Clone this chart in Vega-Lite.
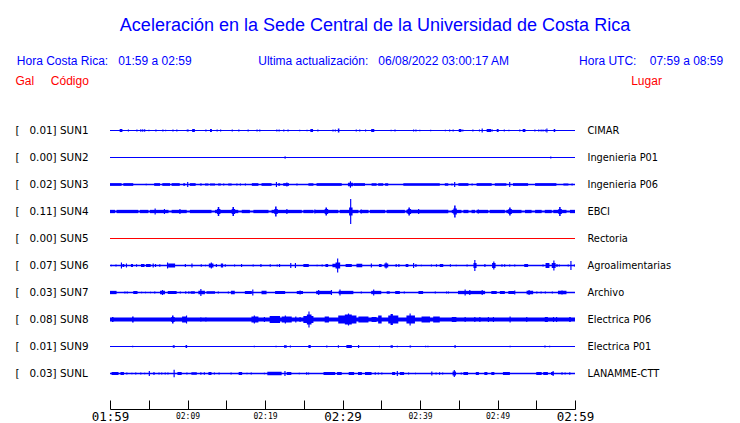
{
 "$schema": "https://vega.github.io/schema/vega-lite/v6.json",
 "width": 465,
 "height": 270,
 "autosize": {"type": "none"},
 "padding": {"left": 110, "top": 117, "right": 165, "bottom": 36},
 "background": "white",
 "config": {"view": {"stroke": null}},
 "title": {
  "text": "Aceleración en la Sede Central de la Universidad de Costa Rica",
  "subtitle": "Hora Costa Rica:\u00a0\u00a0\u00a001:59 a 02:59\u00a0\u00a0\u00a0\u00a0\u00a0\u00a0\u00a0\u00a0\u00a0\u00a0\u00a0\u00a0\u00a0\u00a0\u00a0\u00a0\u00a0\u00a0\u00a0\u00a0Ultima actualización:\u00a0\u00a0\u00a006/08/2022 03:00:17 AM\u00a0\u00a0\u00a0\u00a0\u00a0\u00a0\u00a0\u00a0\u00a0\u00a0\u00a0\u00a0\u00a0\u00a0\u00a0\u00a0\u00a0\u00a0\u00a0\u00a0\u00a0Hora UTC:\u00a0\u00a0\u00a0\u00a007:59 a 08:59\u00a0\u00a0\u00a0\u200b",
  "anchor": "middle",
  "frame": "group",
  "dx": 32.5,
  "offset": 7,
  "font": "Liberation Sans",
  "fontSize": 18,
  "fontWeight": "normal",
  "color": "#0000ff",
  "subtitleFont": "Liberation Sans",
  "subtitleFontSize": 12,
  "subtitleColor": "#0000ff",
  "subtitlePadding": 21
 },
 "datasets": {
  "stations": [
   {"s": "SUN1", "lab": "[\u00a0\u00a0\u00a00.01]\u00a0SUN1", "place": "CIMAR", "n": 0},
   {"s": "SUN2", "lab": "[\u00a0\u00a0\u00a00.00]\u00a0SUN2", "place": "Ingenieria P01", "n": 0},
   {"s": "SUN3", "lab": "[\u00a0\u00a0\u00a00.02]\u00a0SUN3", "place": "Ingenieria P06", "n": 0.2},
   {"s": "SUN4", "lab": "[\u00a0\u00a0\u00a00.11]\u00a0SUN4", "place": "EBCI", "n": 0.3},
   {"s": "SUN5", "lab": "[\u00a0\u00a0\u00a00.00]\u00a0SUN5", "place": "Rectoria", "n": 0},
   {"s": "SUN6", "lab": "[\u00a0\u00a0\u00a00.07]\u00a0SUN6", "place": "Agroalimentarias", "n": 0.1},
   {"s": "SUN7", "lab": "[\u00a0\u00a0\u00a00.03]\u00a0SUN7", "place": "Archivo", "n": 0.1},
   {"s": "SUN8", "lab": "[\u00a0\u00a0\u00a00.08]\u00a0SUN8", "place": "Electrica P06", "n": 1},
   {"s": "SUN9", "lab": "[\u00a0\u00a0\u00a00.01]\u00a0SUN9", "place": "Electrica P01", "n": 0},
   {"s": "SUNL", "lab": "[\u00a0\u00a0\u00a00.03]\u00a0SUNL", "place": "LANAMME-CTT", "n": 0.1}
  ],
  "bursts": [
   {"s":"SUN1","t0":1.25,"t1":1.6,"a":3},{"s":"SUN1","t0":2.3,"t1":2.45,"a":2},{"s":"SUN1","t0":3.4,"t1":3.55,"a":2},{"s":"SUN1","t0":3.9,"t1":4.05,"a":2.5},{"s":"SUN1","t0":4.15,"t1":4.3,"a":2.5},{"s":"SUN1","t0":4.4,"t1":4.55,"a":2.5},{"s":"SUN1","t0":4.95,"t1":5.1,"a":1.5},{"s":"SUN1","t0":5.85,"t1":6.0,"a":2},{"s":"SUN1","t0":6.75,"t1":6.9,"a":2},{"s":"SUN1","t0":7.1,"t1":7.25,"a":1.5},{"s":"SUN1","t0":8.05,"t1":8.2,"a":2},{"s":"SUN1","t0":8.55,"t1":8.7,"a":2},{"s":"SUN1","t0":9.9,"t1":10.15,"a":2},{"s":"SUN1","t0":10.6,"t1":10.95,"a":3},{"s":"SUN1","t0":12.3,"t1":12.45,"a":2},{"s":"SUN1","t0":12.9,"t1":13.15,"a":3},{"s":"SUN1","t0":13.75,"t1":13.9,"a":2},{"s":"SUN1","t0":14.2,"t1":14.35,"a":2},{"s":"SUN1","t0":15.7,"t1":15.85,"a":2},{"s":"SUN1","t0":16.55,"t1":16.7,"a":2},{"s":"SUN1","t0":17.75,"t1":17.9,"a":2},{"s":"SUN1","t0":18.9,"t1":19.05,"a":2},{"s":"SUN1","t0":19.25,"t1":19.4,"a":2},{"s":"SUN1","t0":21.45,"t1":21.6,"a":2},{"s":"SUN1","t0":21.75,"t1":21.9,"a":2},{"s":"SUN1","t0":22.35,"t1":22.5,"a":2},{"s":"SUN1","t0":22.9,"t1":23.05,"a":2},{"s":"SUN1","t0":24.4,"t1":24.55,"a":1.5},{"s":"SUN1","t0":25.35,"t1":25.5,"a":1.5},{"s":"SUN1","t0":25.85,"t1":26.2,"a":3},{"s":"SUN1","t0":26.75,"t1":26.9,"a":2},{"s":"SUN1","t0":28.7,"t1":28.85,"a":2},{"s":"SUN1","t0":29.0,"t1":29.15,"a":2},{"s":"SUN1","t0":29.4,"t1":29.6,"a":4},{"s":"SUN1","t0":31.7,"t1":31.85,"a":2},{"s":"SUN1","t0":32.15,"t1":32.3,"a":2},{"s":"SUN1","t0":32.9,"t1":33.05,"a":2},{"s":"SUN1","t0":33.7,"t1":34.1,"a":3},{"s":"SUN1","t0":36.2,"t1":36.35,"a":1.5},{"s":"SUN1","t0":36.7,"t1":36.85,"a":2},{"s":"SUN1","t0":39.1,"t1":39.25,"a":2},{"s":"SUN1","t0":39.4,"t1":39.55,"a":2},{"s":"SUN1","t0":39.9,"t1":40.05,"a":1.5},{"s":"SUN1","t0":41.3,"t1":41.45,"a":1.5},{"s":"SUN1","t0":43.2,"t1":43.35,"a":1.5},{"s":"SUN1","t0":43.75,"t1":43.9,"a":2},{"s":"SUN1","t0":44.2,"t1":44.35,"a":2},{"s":"SUN1","t0":45.0,"t1":45.35,"a":3},{"s":"SUN1","t0":45.45,"t1":45.6,"a":2},{"s":"SUN1","t0":46.75,"t1":46.9,"a":2},{"s":"SUN1","t0":47.6,"t1":47.75,"a":2},{"s":"SUN1","t0":47.95,"t1":48.1,"a":4},{"s":"SUN1","t0":48.6,"t1":49.2,"a":3},{"s":"SUN1","t0":49.25,"t1":49.4,"a":2},{"s":"SUN1","t0":49.9,"t1":50.15,"a":3},{"s":"SUN1","t0":50.8,"t1":50.95,"a":2},{"s":"SUN1","t0":51.4,"t1":51.55,"a":1.5},{"s":"SUN1","t0":52.8,"t1":52.95,"a":2},{"s":"SUN1","t0":53.25,"t1":53.6,"a":3},{"s":"SUN1","t0":54.75,"t1":54.9,"a":2},{"s":"SUN1","t0":55.25,"t1":55.4,"a":2},{"s":"SUN1","t0":55.55,"t1":55.7,"a":2},{"s":"SUN1","t0":55.8,"t1":55.95,"a":2},{"s":"SUN1","t0":56.1,"t1":56.25,"a":2},{"s":"SUN1","t0":56.3,"t1":56.45,"a":4},{"s":"SUN1","t0":57.25,"t1":57.45,"a":3},
   {"s":"SUN2","t0":22.5,"t1":22.7,"a":2},{"s":"SUN2","t0":56.8,"t1":56.95,"a":2},
   {"s":"SUN3","t0":0,"t1":1.5,"a":2.7},{"s":"SUN3","t0":1.72,"t1":3.0,"a":2.7},{"s":"SUN3","t0":4.6,"t1":4.75,"a":1.5},{"s":"SUN3","t0":5.7,"t1":6.45,"a":2.7},{"s":"SUN3","t0":6.75,"t1":7.75,"a":2.7},{"s":"SUN3","t0":7.95,"t1":9.0,"a":2.7},{"s":"SUN3","t0":9.45,"t1":9.7,"a":2.5},{"s":"SUN3","t0":9.95,"t1":10.1,"a":5},{"s":"SUN3","t0":10.3,"t1":11.05,"a":2.7},{"s":"SUN3","t0":11.6,"t1":11.85,"a":2},{"s":"SUN3","t0":12.25,"t1":12.7,"a":2},{"s":"SUN3","t0":12.9,"t1":13.55,"a":2},{"s":"SUN3","t0":13.95,"t1":14.3,"a":2},{"s":"SUN3","t0":14.6,"t1":14.75,"a":2},{"s":"SUN3","t0":15.25,"t1":15.7,"a":2},{"s":"SUN3","t0":16.3,"t1":16.45,"a":2},{"s":"SUN3","t0":16.75,"t1":16.9,"a":2},{"s":"SUN3","t0":17.4,"t1":17.55,"a":2},{"s":"SUN3","t0":18.3,"t1":19.15,"a":2.7},{"s":"SUN3","t0":19.55,"t1":20.85,"a":2.7},{"s":"SUN3","t0":21.4,"t1":21.55,"a":5},{"s":"SUN3","t0":21.7,"t1":21.95,"a":2.5},{"s":"SUN3","t0":22.35,"t1":23.1,"a":2.7},{"s":"SUN3","t0":22.75,"t1":22.9,"a":4},{"s":"SUN3","t0":24.05,"t1":24.2,"a":2},{"s":"SUN3","t0":25.6,"t1":26.25,"a":2.5},{"s":"SUN3","t0":26.65,"t1":29.9,"a":2.7},{"s":"SUN3","t0":30.7,"t1":31.35,"a":3.5},{"s":"SUN3","t0":30.95,"t1":31.1,"a":6.5},{"s":"SUN3","t0":31.4,"t1":32.9,"a":2.7},{"s":"SUN3","t0":33.75,"t1":34.4,"a":2.5},{"s":"SUN3","t0":34.6,"t1":35.25,"a":2.5},{"s":"SUN3","t0":35.5,"t1":35.9,"a":2.5},{"s":"SUN3","t0":37.85,"t1":42.55,"a":2.7},{"s":"SUN3","t0":43.2,"t1":43.65,"a":2.5},{"s":"SUN3","t0":44.05,"t1":44.2,"a":2},{"s":"SUN3","t0":44.4,"t1":44.55,"a":5},{"s":"SUN3","t0":44.95,"t1":46.25,"a":2.7},{"s":"SUN3","t0":46.65,"t1":46.8,"a":2},{"s":"SUN3","t0":47.3,"t1":49.25,"a":2.7},{"s":"SUN3","t0":49.65,"t1":51.15,"a":2.5},{"s":"SUN3","t0":51.5,"t1":51.65,"a":5},{"s":"SUN3","t0":52.0,"t1":53.95,"a":2.7},{"s":"SUN3","t0":54.85,"t1":57.6,"a":2.7},{"s":"SUN3","t0":58.5,"t1":59.15,"a":2},{"s":"SUN3","t0":59.55,"t1":59.7,"a":2},
   {"s":"SUN4","t0":0,"t1":0.65,"a":3.3},{"s":"SUN4","t0":0.85,"t1":3.65,"a":3.3},{"s":"SUN4","t0":3.85,"t1":4.95,"a":3.3},{"s":"SUN4","t0":5.15,"t1":7.55,"a":3.3},{"s":"SUN4","t0":7.95,"t1":9.9,"a":3.3},{"s":"SUN4","t0":10.3,"t1":13.1,"a":3.3},{"s":"SUN4","t0":13.55,"t1":16.55,"a":3.3},{"s":"SUN4","t0":17.0,"t1":18.05,"a":3.3},{"s":"SUN4","t0":18.5,"t1":20.45,"a":3.3},{"s":"SUN4","t0":20.85,"t1":24.75,"a":3.3},{"s":"SUN4","t0":24.95,"t1":26.25,"a":3.3},{"s":"SUN4","t0":26.45,"t1":29.45,"a":3.3},{"s":"SUN4","t0":29.65,"t1":32.05,"a":3.3},{"s":"SUN4","t0":32.25,"t1":33.35,"a":3.3},{"s":"SUN4","t0":33.55,"t1":35.5,"a":3.3},{"s":"SUN4","t0":35.7,"t1":38.05,"a":3.3},{"s":"SUN4","t0":38.25,"t1":43.65,"a":3.3},{"s":"SUN4","t0":44.1,"t1":45.35,"a":3.3},{"s":"SUN4","t0":45.6,"t1":46.25,"a":3.3},{"s":"SUN4","t0":46.65,"t1":47.1,"a":3.3},{"s":"SUN4","t0":47.3,"t1":48.8,"a":3.3},{"s":"SUN4","t0":49.0,"t1":50.95,"a":3.3},{"s":"SUN4","t0":51.15,"t1":53.1,"a":3.3},{"s":"SUN4","t0":53.55,"t1":54.4,"a":3.3},{"s":"SUN4","t0":54.85,"t1":55.7,"a":3.3},{"s":"SUN4","t0":56.1,"t1":57.0,"a":3.3},{"s":"SUN4","t0":57.2,"t1":58.9,"a":3.3},{"s":"SUN4","t0":59.35,"t1":60,"a":3.3},
   {"s":"SUN4","t0":5.75,"t1":5.9,"a":6},{"s":"SUN4","t0":6.95,"t1":7.1,"a":5},{"s":"SUN4","t0":8.95,"t1":9.1,"a":5},{"s":"SUN4","t0":13.9,"t1":14.1,"a":9},{"s":"SUN4","t0":13.8,"t1":14.25,"a":5},{"s":"SUN4","t0":15.8,"t1":16.0,"a":9},{"s":"SUN4","t0":15.7,"t1":16.15,"a":5},{"s":"SUN4","t0":21.3,"t1":21.5,"a":10},{"s":"SUN4","t0":21.2,"t1":21.65,"a":5},{"s":"SUN4","t0":22.75,"t1":22.9,"a":5},{"s":"SUN4","t0":26.35,"t1":26.5,"a":4},{"s":"SUN4","t0":27.8,"t1":28.0,"a":8},{"s":"SUN4","t0":27.7,"t1":28.15,"a":5},{"s":"SUN4","t0":30.98,"t1":31.13,"a":25},{"s":"SUN4","t0":30.85,"t1":31.3,"a":8},{"s":"SUN4","t0":32.35,"t1":32.5,"a":4},{"s":"SUN4","t0":38.5,"t1":38.7,"a":8},{"s":"SUN4","t0":38.4,"t1":38.85,"a":5},{"s":"SUN4","t0":39.75,"t1":39.9,"a":5},{"s":"SUN4","t0":44.4,"t1":44.6,"a":12},{"s":"SUN4","t0":44.3,"t1":44.75,"a":6},{"s":"SUN4","t0":47.45,"t1":47.6,"a":4},{"s":"SUN4","t0":51.5,"t1":51.7,"a":8},{"s":"SUN4","t0":51.4,"t1":51.85,"a":5},{"s":"SUN4","t0":57.95,"t1":58.15,"a":9},{"s":"SUN4","t0":57.85,"t1":58.3,"a":5},
   {"s":"SUN6","t0":0.1,"t1":0.25,"a":1.5},{"s":"SUN6","t0":0.7,"t1":0.85,"a":2},{"s":"SUN6","t0":1.4,"t1":1.55,"a":6},{"s":"SUN6","t0":1.6,"t1":1.85,"a":3},{"s":"SUN6","t0":2.05,"t1":2.2,"a":4},{"s":"SUN6","t0":2.7,"t1":2.97,"a":3},{"s":"SUN6","t0":3.35,"t1":3.5,"a":2.5},{"s":"SUN6","t0":4.0,"t1":4.45,"a":3},{"s":"SUN6","t0":4.65,"t1":5.25,"a":3},{"s":"SUN6","t0":5.5,"t1":5.65,"a":4},{"s":"SUN6","t0":5.8,"t1":5.95,"a":3},{"s":"SUN6","t0":6.35,"t1":6.5,"a":2.5},{"s":"SUN6","t0":7.35,"t1":7.5,"a":6},{"s":"SUN6","t0":7.5,"t1":8.4,"a":4},{"s":"SUN6","t0":9.65,"t1":9.8,"a":3},{"s":"SUN6","t0":10.5,"t1":10.65,"a":4},{"s":"SUN6","t0":11.7,"t1":11.85,"a":2.5},{"s":"SUN6","t0":12.25,"t1":12.4,"a":1.5},{"s":"SUN6","t0":12.75,"t1":13.35,"a":4},{"s":"SUN6","t0":13.0,"t1":13.15,"a":6},{"s":"SUN6","t0":13.65,"t1":13.8,"a":3},{"s":"SUN6","t0":14.3,"t1":14.6,"a":4},{"s":"SUN6","t0":14.8,"t1":14.95,"a":2.5},{"s":"SUN6","t0":16.0,"t1":16.15,"a":2},{"s":"SUN6","t0":16.9,"t1":17.05,"a":3},{"s":"SUN6","t0":18.4,"t1":18.55,"a":2},{"s":"SUN6","t0":19.4,"t1":19.55,"a":3},{"s":"SUN6","t0":20.6,"t1":20.75,"a":2.5},{"s":"SUN6","t0":21.5,"t1":21.65,"a":2},{"s":"SUN6","t0":21.8,"t1":21.95,"a":3},{"s":"SUN6","t0":23.25,"t1":23.4,"a":5},{"s":"SUN6","t0":23.85,"t1":24.0,"a":5},{"s":"SUN6","t0":24.95,"t1":25.65,"a":3},{"s":"SUN6","t0":26.65,"t1":26.8,"a":1.5},{"s":"SUN6","t0":27.3,"t1":27.45,"a":2},{"s":"SUN6","t0":27.8,"t1":28.15,"a":3},{"s":"SUN6","t0":28.7,"t1":29.65,"a":3.5},{"s":"SUN6","t0":29.1,"t1":29.7,"a":6},{"s":"SUN6","t0":29.3,"t1":29.45,"a":14},{"s":"SUN6","t0":30.4,"t1":31.2,"a":3},{"s":"SUN6","t0":31.8,"t1":32.55,"a":3.5},{"s":"SUN6","t0":33.65,"t1":33.8,"a":4},{"s":"SUN6","t0":34.7,"t1":35.05,"a":3},{"s":"SUN6","t0":35.4,"t1":35.9,"a":4},{"s":"SUN6","t0":35.55,"t1":35.7,"a":6},{"s":"SUN6","t0":36.85,"t1":37.0,"a":3},{"s":"SUN6","t0":37.2,"t1":37.35,"a":3},{"s":"SUN6","t0":38.15,"t1":38.5,"a":3},{"s":"SUN6","t0":39.1,"t1":39.25,"a":5},{"s":"SUN6","t0":39.4,"t1":39.55,"a":3},{"s":"SUN6","t0":40.1,"t1":40.25,"a":1.5},{"s":"SUN6","t0":41.4,"t1":41.55,"a":2},{"s":"SUN6","t0":42.05,"t1":42.2,"a":2.5},{"s":"SUN6","t0":42.55,"t1":43.0,"a":3},{"s":"SUN6","t0":43.85,"t1":44.0,"a":2.5},{"s":"SUN6","t0":44.6,"t1":44.75,"a":1.5},{"s":"SUN6","t0":46.0,"t1":46.15,"a":2},{"s":"SUN6","t0":46.9,"t1":47.3,"a":5},{"s":"SUN6","t0":47.0,"t1":47.15,"a":11},{"s":"SUN6","t0":48.3,"t1":48.45,"a":3},{"s":"SUN6","t0":49.3,"t1":49.75,"a":5},{"s":"SUN6","t0":49.45,"t1":49.6,"a":8},{"s":"SUN6","t0":50.5,"t1":50.65,"a":2.5},{"s":"SUN6","t0":50.85,"t1":51.0,"a":2.5},{"s":"SUN6","t0":51.5,"t1":51.65,"a":2},{"s":"SUN6","t0":52.15,"t1":52.3,"a":2},{"s":"SUN6","t0":53.45,"t1":53.95,"a":3},{"s":"SUN6","t0":55.8,"t1":55.95,"a":2},{"s":"SUN6","t0":56.2,"t1":56.7,"a":5},{"s":"SUN6","t0":57.0,"t1":57.5,"a":5},{"s":"SUN6","t0":57.2,"t1":57.35,"a":10},{"s":"SUN6","t0":57.6,"t1":57.75,"a":3},{"s":"SUN6","t0":57.9,"t1":58.05,"a":2},{"s":"SUN6","t0":59.05,"t1":59.2,"a":2},{"s":"SUN6","t0":59.4,"t1":59.55,"a":9},{"s":"SUN6","t0":59.85,"t1":60,"a":2},
   {"s":"SUN7","t0":0,"t1":0.85,"a":3.3},{"s":"SUN7","t0":1.85,"t1":2.0,"a":2},{"s":"SUN7","t0":2.15,"t1":2.3,"a":2},{"s":"SUN7","t0":3.0,"t1":3.55,"a":3},{"s":"SUN7","t0":4.0,"t1":4.15,"a":1.5},{"s":"SUN7","t0":4.5,"t1":4.65,"a":1.5},{"s":"SUN7","t0":5.15,"t1":5.3,"a":1.5},{"s":"SUN7","t0":5.7,"t1":5.85,"a":2},{"s":"SUN7","t0":6.45,"t1":7.1,"a":3.5},{"s":"SUN7","t0":6.7,"t1":6.85,"a":5},{"s":"SUN7","t0":7.45,"t1":8.6,"a":3},{"s":"SUN7","t0":9.0,"t1":9.15,"a":2},{"s":"SUN7","t0":9.7,"t1":9.85,"a":2.5},{"s":"SUN7","t0":10.1,"t1":10.25,"a":2.5},{"s":"SUN7","t0":10.4,"t1":10.95,"a":2.5},{"s":"SUN7","t0":11.4,"t1":12.25,"a":3.5},{"s":"SUN7","t0":11.65,"t1":11.8,"a":7},{"s":"SUN7","t0":12.45,"t1":13.55,"a":2.5},{"s":"SUN7","t0":13.9,"t1":14.05,"a":2},{"s":"SUN7","t0":15.2,"t1":15.35,"a":2},{"s":"SUN7","t0":15.6,"t1":16.1,"a":3.5},{"s":"SUN7","t0":17.4,"t1":18.3,"a":3},{"s":"SUN7","t0":18.35,"t1":18.5,"a":6},{"s":"SUN7","t0":19.55,"t1":20.2,"a":3.5},{"s":"SUN7","t0":21.3,"t1":22.6,"a":3},{"s":"SUN7","t0":24.1,"t1":24.9,"a":3},{"s":"SUN7","t0":24.45,"t1":24.6,"a":4},{"s":"SUN7","t0":26.6,"t1":28.6,"a":3.3},{"s":"SUN7","t0":26.85,"t1":27.0,"a":5},{"s":"SUN7","t0":28.5,"t1":28.65,"a":5},{"s":"SUN7","t0":29.5,"t1":31.4,"a":3.3},{"s":"SUN7","t0":29.6,"t1":29.75,"a":6},{"s":"SUN7","t0":32.35,"t1":32.5,"a":2},{"s":"SUN7","t0":33.7,"t1":35.0,"a":3.3},{"s":"SUN7","t0":33.95,"t1":34.1,"a":6},{"s":"SUN7","t0":35.7,"t1":36.1,"a":2.5},{"s":"SUN7","t0":36.8,"t1":37.4,"a":3},{"s":"SUN7","t0":37.9,"t1":38.05,"a":2},{"s":"SUN7","t0":39.8,"t1":40.4,"a":3},{"s":"SUN7","t0":41.9,"t1":42.05,"a":2},{"s":"SUN7","t0":43.35,"t1":43.5,"a":2},{"s":"SUN7","t0":43.6,"t1":43.75,"a":2},{"s":"SUN7","t0":44.9,"t1":48.4,"a":3.3},{"s":"SUN7","t0":45.75,"t1":45.9,"a":6},{"s":"SUN7","t0":46.35,"t1":46.5,"a":5},{"s":"SUN7","t0":47.95,"t1":48.1,"a":5},{"s":"SUN7","t0":49.2,"t1":49.9,"a":3},{"s":"SUN7","t0":50.3,"t1":50.95,"a":3},{"s":"SUN7","t0":51.4,"t1":52.2,"a":3},{"s":"SUN7","t0":52.15,"t1":52.3,"a":4},{"s":"SUN7","t0":53.75,"t1":54.6,"a":3.5},{"s":"SUN7","t0":54.0,"t1":54.15,"a":5},{"s":"SUN7","t0":55.0,"t1":55.15,"a":2},{"s":"SUN7","t0":55.55,"t1":55.7,"a":2},{"s":"SUN7","t0":56.1,"t1":56.25,"a":2},{"s":"SUN7","t0":57.0,"t1":57.15,"a":2},{"s":"SUN7","t0":57.8,"t1":58.9,"a":3.5},{"s":"SUN7","t0":58.25,"t1":58.4,"a":4},
   {"s":"SUN8","t0":0.25,"t1":0.45,"a":5},{"s":"SUN8","t0":2.85,"t1":3.05,"a":6},{"s":"SUN8","t0":6.2,"t1":6.35,"a":3},{"s":"SUN8","t0":7.9,"t1":8.35,"a":5},{"s":"SUN8","t0":8.0,"t1":8.2,"a":8},{"s":"SUN8","t0":9.3,"t1":9.9,"a":6},{"s":"SUN8","t0":9.8,"t1":9.95,"a":8},{"s":"SUN8","t0":11.65,"t1":11.8,"a":4},{"s":"SUN8","t0":12.3,"t1":12.45,"a":4},{"s":"SUN8","t0":18.25,"t1":19.15,"a":6},{"s":"SUN8","t0":18.55,"t1":18.7,"a":8},{"s":"SUN8","t0":19.85,"t1":20.0,"a":5},{"s":"SUN8","t0":20.6,"t1":21.95,"a":7},{"s":"SUN8","t0":22.15,"t1":23.45,"a":6},{"s":"SUN8","t0":22.55,"t1":22.7,"a":8},{"s":"SUN8","t0":23.9,"t1":24.05,"a":6},{"s":"SUN8","t0":24.45,"t1":24.6,"a":5},{"s":"SUN8","t0":24.95,"t1":26.25,"a":7},{"s":"SUN8","t0":25.4,"t1":26.0,"a":10},{"s":"SUN8","t0":25.6,"t1":25.75,"a":16},{"s":"SUN8","t0":27.7,"t1":28.25,"a":6},{"s":"SUN8","t0":29.45,"t1":31.8,"a":8},{"s":"SUN8","t0":30.3,"t1":31.2,"a":10},{"s":"SUN8","t0":30.7,"t1":30.85,"a":12},{"s":"SUN8","t0":32.05,"t1":33.35,"a":6},{"s":"SUN8","t0":33.75,"t1":34.4,"a":5},{"s":"SUN8","t0":34.6,"t1":35.05,"a":8},{"s":"SUN8","t0":35.9,"t1":37.2,"a":8},{"s":"SUN8","t0":36.2,"t1":36.5,"a":11},{"s":"SUN8","t0":38.25,"t1":39.35,"a":8},{"s":"SUN8","t0":38.65,"t1":38.8,"a":12},{"s":"SUN8","t0":40.2,"t1":41.3,"a":6},{"s":"SUN8","t0":41.7,"t1":42.55,"a":6},{"s":"SUN8","t0":44.1,"t1":44.7,"a":5},{"s":"SUN8","t0":45.75,"t1":45.9,"a":5},{"s":"SUN8","t0":47.0,"t1":47.15,"a":5},{"s":"SUN8","t0":47.65,"t1":47.8,"a":5},{"s":"SUN8","t0":48.75,"t1":48.9,"a":5},{"s":"SUN8","t0":49.4,"t1":49.55,"a":5},{"s":"SUN8","t0":51.55,"t1":51.7,"a":6},{"s":"SUN8","t0":53.7,"t1":53.85,"a":5},{"s":"SUN8","t0":56.1,"t1":56.5,"a":5},{"s":"SUN8","t0":57.15,"t1":57.3,"a":5},{"s":"SUN8","t0":57.55,"t1":57.7,"a":5},{"s":"SUN8","t0":59.25,"t1":59.45,"a":5},
   {"s":"SUN9","t0":2.85,"t1":3.0,"a":1.5},{"s":"SUN9","t0":8.1,"t1":8.35,"a":2.5},{"s":"SUN9","t0":9.75,"t1":9.95,"a":3},{"s":"SUN9","t0":18.55,"t1":18.7,"a":1.5},{"s":"SUN9","t0":21.35,"t1":21.5,"a":1.5},{"s":"SUN9","t0":22.45,"t1":22.8,"a":2.5},{"s":"SUN9","t0":23.2,"t1":23.35,"a":2},{"s":"SUN9","t0":25.6,"t1":25.9,"a":3},{"s":"SUN9","t0":27.9,"t1":28.05,"a":2},{"s":"SUN9","t0":29.4,"t1":29.55,"a":2.5},{"s":"SUN9","t0":30.5,"t1":31.2,"a":3},{"s":"SUN9","t0":32.0,"t1":32.15,"a":3},{"s":"SUN9","t0":34.7,"t1":34.85,"a":1.5},{"s":"SUN9","t0":36.2,"t1":36.5,"a":2.5},{"s":"SUN9","t0":37.0,"t1":37.15,"a":1.5},{"s":"SUN9","t0":38.65,"t1":38.85,"a":2},{"s":"SUN9","t0":40.65,"t1":40.8,"a":1.5},{"s":"SUN9","t0":40.95,"t1":41.1,"a":1.5},{"s":"SUN9","t0":44.45,"t1":44.6,"a":3},{"s":"SUN9","t0":51.55,"t1":51.7,"a":1.5},{"s":"SUN9","t0":56.05,"t1":56.2,"a":2},{"s":"SUN9","t0":56.65,"t1":56.8,"a":1.5},
   {"s":"SUNL","t0":0.2,"t1":1.1,"a":3},{"s":"SUNL","t0":1.35,"t1":1.8,"a":3},{"s":"SUNL","t0":2.1,"t1":2.25,"a":2},{"s":"SUNL","t0":2.75,"t1":2.9,"a":1.5},{"s":"SUNL","t0":3.25,"t1":3.4,"a":2},{"s":"SUNL","t0":3.9,"t1":4.05,"a":2},{"s":"SUNL","t0":4.4,"t1":4.55,"a":1.5},{"s":"SUNL","t0":5.0,"t1":5.15,"a":5},{"s":"SUNL","t0":5.6,"t1":5.75,"a":3},{"s":"SUNL","t0":6.25,"t1":6.4,"a":2},{"s":"SUNL","t0":6.6,"t1":6.75,"a":2},{"s":"SUNL","t0":7.05,"t1":7.2,"a":2},{"s":"SUNL","t0":7.4,"t1":7.55,"a":2},{"s":"SUNL","t0":8.2,"t1":8.35,"a":7.5},{"s":"SUNL","t0":8.7,"t1":9.25,"a":3},{"s":"SUNL","t0":9.85,"t1":10.0,"a":2},{"s":"SUNL","t0":10.5,"t1":11.2,"a":2.5},{"s":"SUNL","t0":11.65,"t1":11.8,"a":2.5},{"s":"SUNL","t0":12.1,"t1":12.25,"a":2.5},{"s":"SUNL","t0":12.7,"t1":13.1,"a":3},{"s":"SUNL","t0":13.4,"t1":13.55,"a":2},{"s":"SUNL","t0":14.0,"t1":14.15,"a":2},{"s":"SUNL","t0":15.55,"t1":15.7,"a":2},{"s":"SUNL","t0":16.6,"t1":17.05,"a":3},{"s":"SUNL","t0":17.6,"t1":17.75,"a":1.5},{"s":"SUNL","t0":18.15,"t1":18.3,"a":2},{"s":"SUNL","t0":19.85,"t1":20.0,"a":1.5},{"s":"SUNL","t0":20.3,"t1":22.15,"a":3.5},{"s":"SUNL","t0":22.5,"t1":22.65,"a":5},{"s":"SUNL","t0":22.8,"t1":23.4,"a":3},{"s":"SUNL","t0":24.35,"t1":24.5,"a":1.5},{"s":"SUNL","t0":25.3,"t1":25.45,"a":2.5},{"s":"SUNL","t0":25.55,"t1":25.7,"a":2},{"s":"SUNL","t0":27.55,"t1":29.05,"a":3},{"s":"SUNL","t0":29.3,"t1":29.9,"a":3},{"s":"SUNL","t0":30.8,"t1":31.5,"a":3},{"s":"SUNL","t0":32.0,"t1":32.5,"a":3},{"s":"SUNL","t0":32.9,"t1":33.75,"a":3},{"s":"SUNL","t0":34.15,"t1":34.3,"a":2.5},{"s":"SUNL","t0":34.55,"t1":34.7,"a":2},{"s":"SUNL","t0":35.0,"t1":35.15,"a":2},{"s":"SUNL","t0":36.4,"t1":36.8,"a":3},{"s":"SUNL","t0":37.0,"t1":37.15,"a":5},{"s":"SUNL","t0":37.4,"t1":37.95,"a":3},{"s":"SUNL","t0":38.45,"t1":38.6,"a":2},{"s":"SUNL","t0":39.35,"t1":39.5,"a":1.5},{"s":"SUNL","t0":41.45,"t1":41.6,"a":4},{"s":"SUNL","t0":42.0,"t1":42.15,"a":2},{"s":"SUNL","t0":42.45,"t1":42.6,"a":2.5},{"s":"SUNL","t0":42.85,"t1":43.0,"a":2},{"s":"SUNL","t0":44.2,"t1":44.65,"a":4},{"s":"SUNL","t0":44.35,"t1":44.5,"a":7},{"s":"SUNL","t0":45.25,"t1":45.4,"a":2},{"s":"SUNL","t0":45.6,"t1":46.2,"a":3},{"s":"SUNL","t0":47.2,"t1":47.6,"a":3},{"s":"SUNL","t0":48.3,"t1":48.7,"a":3},{"s":"SUNL","t0":49.2,"t1":49.6,"a":3},{"s":"SUNL","t0":50.7,"t1":51.6,"a":3},{"s":"SUNL","t0":55.0,"t1":55.7,"a":3},{"s":"SUNL","t0":55.9,"t1":56.5,"a":3},{"s":"SUNL","t0":56.9,"t1":57.25,"a":3},{"s":"SUNL","t0":57.1,"t1":57.25,"a":5},{"s":"SUNL","t0":58.25,"t1":58.4,"a":2.5},{"s":"SUNL","t0":58.65,"t1":58.8,"a":2},{"s":"SUNL","t0":59.25,"t1":59.4,"a":2.5}
  ]
 },
 "layer": [
  {
   "layer": [
    {
     "data": {"name": "stations"},
     "mark": {"type": "rule"},
     "encoding": {
      "y": {
       "field": "lab", "type": "nominal", "sort": null,
       "scale": {"type": "band", "paddingInner": 0, "paddingOuter": 0},
       "axis": {
        "orient": "left", "domain": false, "ticks": false, "grid": false,
        "labelAlign": "left", "labelBaseline": "middle", "labelPadding": 95,
        "labelFont": "DejaVu Sans", "labelFontSize": 10.4, "labelColor": "#000000",
        "title": "Gal\u00a0\u00a0\u00a0\u00a0\u00a0Código", "titleColor": "#ff0000",
        "titleFont": "Liberation Sans", "titleFontSize": 12, "titleFontWeight": "normal",
        "titleAngle": 0, "titleAlign": "left", "titleBaseline": "middle",
        "titleX": -95, "titleY": -37
       }
      },
      "strokeWidth": {"field": "n", "type": "quantitative", "scale": {"domain": [0, 1], "range": [1, 4]}, "legend": null},
      "color": {"condition": {"test": "datum.s === 'SUN5'", "value": "#ff0000"}, "value": "#0000ff"}
     }
    },
    {
     "data": {"name": "bursts"},
     "transform": [{"lookup": "s", "from": {"data": {"name": "stations"}, "key": "s", "fields": ["lab"]}}],
     "mark": {"type": "bar", "color": "#0000ff"},
     "encoding": {
      "x": {
       "field": "t0", "type": "quantitative",
       "scale": {"domain": [0, 60], "nice": false, "zero": false},
       "axis": {
        "orient": "bottom", "offset": 22, "title": null, "grid": false,
        "domain": true, "ticks": true,
        "values": [0, 5, 10, 15, 20, 25, 30, 35, 40, 45, 50, 55, 60],
        "labelExpr": "datum.value % 10 === 0 ? '0' + floor((119 + datum.value) / 60) + ':' + (((119 + datum.value) % 60) < 10 ? '0' : '') + ((119 + datum.value) % 60) : ''",
        "tickSize": -9, "tickColor": "#000000", "tickWidth": 1,
        "domainColor": "#000000", "domainWidth": 1,
        "labelFont": "DejaVu Sans Mono",
        "labelFontSize": {"condition": {"test": "datum.value % 30 === 0", "value": 12.5}, "value": 8},
        "labelColor": "#000000", "labelBaseline": "middle", "labelPadding": 16,
        "labelFlush": false, "labelOverlap": false, "labelBound": false
       }
      },
      "x2": {"field": "t1"},
      "y": {"field": "lab", "type": "nominal", "sort": null},
      "size": {"field": "a", "type": "quantitative", "scale": {"domain": [0, 30], "range": [0, 30]}, "legend": null}
     }
    }
   ]
  },
  {
   "data": {"name": "stations"},
   "mark": {"type": "rule", "opacity": 0},
   "encoding": {
    "y": {
     "field": "place", "type": "nominal", "sort": null,
     "scale": {"type": "band", "paddingInner": 0, "paddingOuter": 0},
     "axis": {
      "orient": "right", "domain": false, "ticks": false, "grid": false,
      "labelAlign": "left", "labelBaseline": "middle", "labelPadding": 12,
      "labelFont": "DejaVu Sans", "labelFontSize": 9.8, "labelColor": "#000000",
      "title": "Lugar", "titleColor": "#ff0000",
      "titleFont": "Liberation Sans", "titleFontSize": 12, "titleFontWeight": "normal",
      "titleAngle": 0, "titleAlign": "left", "titleBaseline": "middle",
      "titleX": 55.7, "titleY": -37
     }
    }
   }
  }
 ],
 "resolve": {"scale": {"y": "independent"}}
}
